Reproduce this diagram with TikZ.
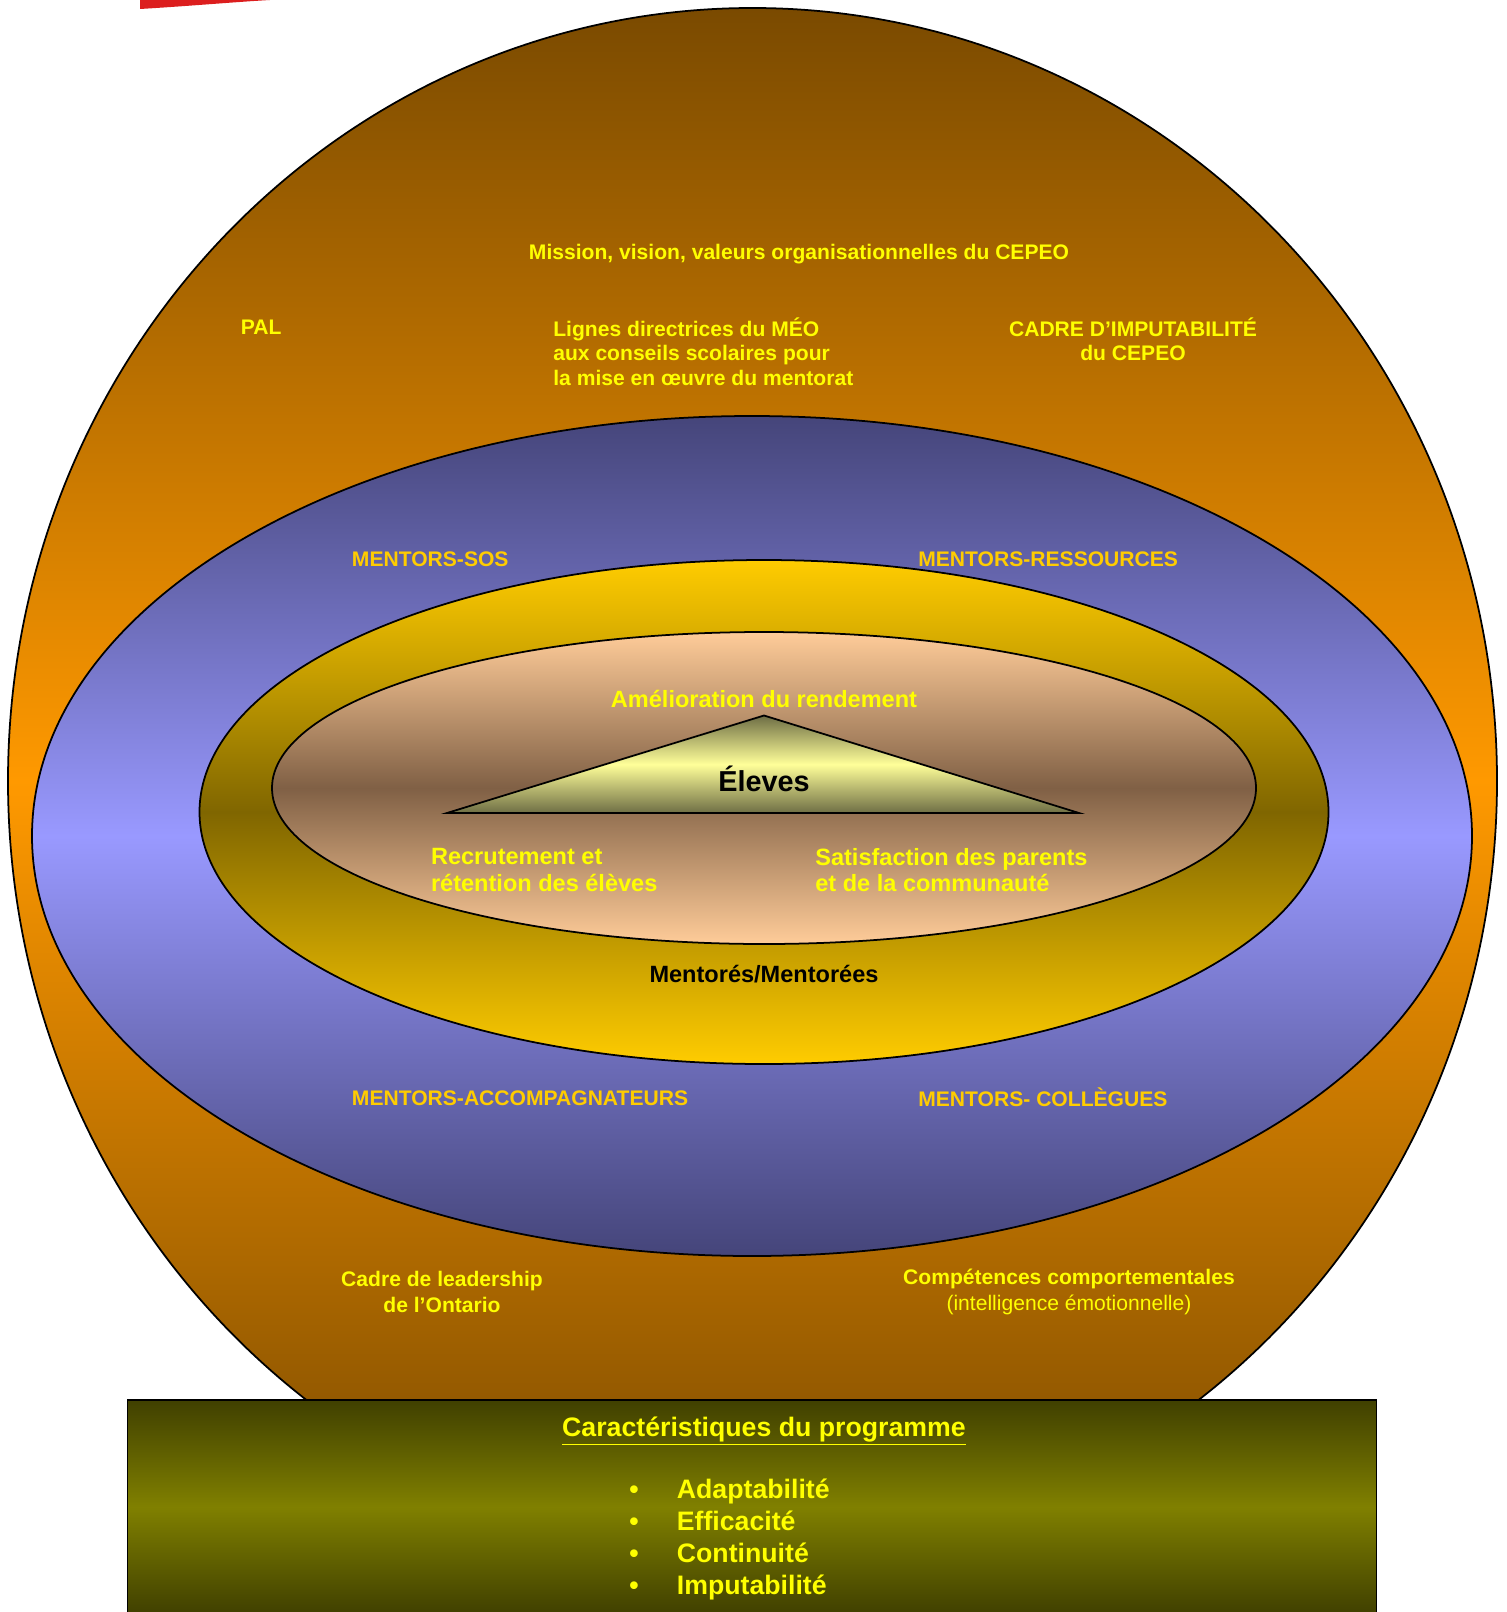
\documentclass[tikz,border=0pt]{standalone}
\usepackage{fontspec}
\setmainfont{Liberation Sans}
\usepackage{xcolor}

\definecolor{logored}{HTML}{DC1E1E}
\definecolor{orangedark}{HTML}{7A4A00}
\definecolor{orangemid}{HTML}{FF9900}
\definecolor{bluedark}{HTML}{45457A}
\definecolor{bluemid}{HTML}{9999FF}
\definecolor{golddark}{HTML}{806600}
\definecolor{goldlight}{HTML}{FFCC00}
\definecolor{peachdark}{HTML}{806045}
\definecolor{peachlight}{HTML}{FFCC99}
\definecolor{olivedark}{HTML}{404000}
\definecolor{olivemid}{HTML}{808000}
\definecolor{triedge}{HTML}{6E6E45}
\definecolor{trimid}{HTML}{FFFF99}
\definecolor{txtyellow}{HTML}{FFFF00}
\definecolor{txtgold}{HTML}{FFCC00}

\begin{document}
\begin{tikzpicture}[x=0.02cm,y=-0.02cm,
    ring/.style={draw=black,line width=1pt},
    smalltxt/.style={font=\fontsize{12}{14}\selectfont\bfseries,text=txtyellow,align=center,inner sep=0pt},
    mentortxt/.style={font=\fontsize{12}{14}\selectfont\bfseries,text=txtgold,anchor=west,inner sep=0pt},
    midtxt/.style={font=\fontsize{13.4}{15.2}\selectfont\bfseries,text=txtyellow,inner sep=0pt},
    bigtxt/.style={font=\fontsize{15.2}{18}\selectfont\bfseries,text=txtyellow,inner sep=0pt,
      text height=11pt,text depth=3pt},
]
\useasboundingbox (0,0) rectangle (1507,1612);

% logo fragment cut off at the top
\fill[logored] (140,0) -- (140,9) .. controls (190,6) and (235,2) .. (270,0) -- cycle;

% rings, from the outside in
\draw[ring,top color=orangedark,bottom color=orangedark,middle color=orangemid]
  (752.5,781) ellipse [x radius=744.5,y radius=773];
\draw[ring,top color=bluedark,bottom color=bluedark,middle color=bluemid]
  (752,836) ellipse [x radius=720,y radius=420];
\draw[ring,top color=goldlight,bottom color=goldlight,middle color=golddark]
  (764,812) ellipse [x radius=564.5,y radius=252];
\draw[ring,top color=peachlight,bottom color=peachlight,middle color=peachdark]
  (764,788) ellipse [x radius=492,y radius=156];

% students triangle
\draw[ring,top color=triedge,bottom color=triedge,middle color=trimid]
  (764,715.5) -- (1079,813) -- (447,813) -- cycle;

% program box
\draw[ring,top color=olivedark,bottom color=olivedark,middle color=olivemid]
  (127.5,1400) rectangle (1376.5,1614);

% outer ring texts
\node[smalltxt] (mission) at (799,254) {Mission, vision, valeurs organisationnelles du CEPEO};
\node[smalltxt,anchor=west] (pal) at (240.5,327) {PAL};
\node[smalltxt,anchor=west,align=left] (lignes) at (553,351.6)
  {Lignes directrices du MÉO\\aux conseils scolaires pour\\la mise en œuvre du mentorat};
\node[smalltxt] (cadre) at (1133,339.3) {CADRE D’IMPUTABILITÉ\\du CEPEO};
\node[smalltxt,font=\fontsize{12}{15.2}\selectfont\bfseries] (leader) at (442,1292)
  {Cadre de leadership\\de l’Ontario};
\node[smalltxt,font=\fontsize{12}{15.2}\selectfont\bfseries] (compet) at (1069,1292)
  {Compétences comportementales\\\mdseries(intelligence émotionnelle)};

% mentors
\node[mentortxt] (sos)        at (351.6,559)  {MENTORS-SOS};
\node[mentortxt] (ressources) at (918,559)    {MENTORS-RESSOURCES};
\node[mentortxt] (accomp)     at (351.6,1098) {MENTORS-ACCOMPAGNATEURS};
\node[mentortxt] (collegues)  at (918,1097)   {MENTORS- COLLÈGUES};

% inner texts
\node[midtxt] (amelio) at (764,699) {Amélioration du rendement};
\node[font=\fontsize{16.4}{18}\selectfont\bfseries,inner sep=0pt] (eleves) at (764,779) {Éleves};
\node[midtxt,anchor=west,align=left] (recrut) at (430.7,870) {Recrutement et\\rétention des élèves};
\node[midtxt,anchor=west,align=left] (satisf) at (815,870) {Satisfaction des parents\\et de la communauté};
\node[midtxt,text=black] (mentores) at (764,974.5) {Mentorés/Mentorées};

% program characteristics
\node[bigtxt] (caract) at (764,1429) {\underline{Caractéristiques du programme}};
\foreach \txt [count=\i] in {Adaptabilité,Efficacité,Continuité,Imputabilité} {
  \node[bigtxt] (dot\i) at (634,{1491.5+(\i-1)*32.1}) {\textbullet};
  \node[bigtxt,anchor=west] (item\i) at (676.5,{1491.5+(\i-1)*32.1}) {\txt};
}
\end{tikzpicture}
\end{document}
